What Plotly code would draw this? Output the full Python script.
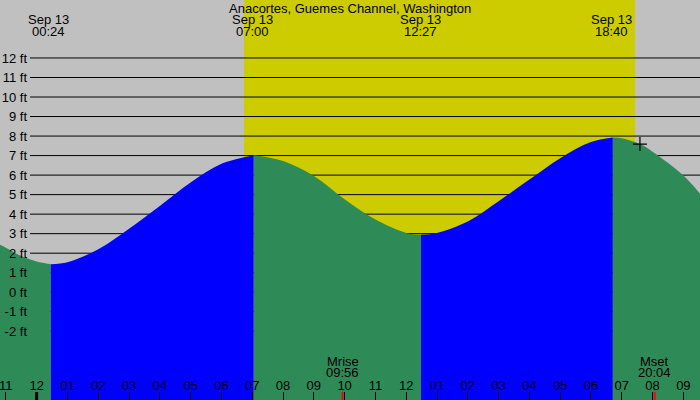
import plotly.graph_objects as go

TITLE = "Anacortes, Guemes Channel, Washington"

# tide height (ft) against hours since midnight Sep 13
tide_hours = [-1.19, -1.0, -0.5, 0.0, 0.46, 1.0, 2.0, 3.0, 4.0, 5.0, 6.0, 7.05,
              8.0, 9.0, 10.0, 11.0, 12.0, 12.48, 13.0, 14.0, 15.0, 16.0, 17.0,
              18.0, 18.71, 19.0, 19.59, 20.0, 21.0, 21.54]
tide_ft = [2.43, 2.28, 1.85, 1.58, 1.44, 1.54, 2.2, 3.25, 4.42, 5.62, 6.58, 7.02,
           6.72, 5.95, 4.76, 3.72, 3.04, 2.95, 3.04, 3.62, 4.66, 5.77, 6.87,
           7.7, 7.93, 7.89, 7.59, 7.2, 5.98, 5.05]

# where the tide turns (colour changes there)
turn_hours = [0.46, 7.05, 12.48, 18.71]

# highs and lows labelled along the top
extreme_hours = [0.4, 7.0, 12.45, 18.667]
extreme_dates = ["Sep 13", "Sep 13", "Sep 13", "Sep 13"]
extreme_times = ["00:24", "07:00", "12:27", "18:40"]

hour_ticks = list(range(-1, 22))
hour_labels = ["11", "12", "01", "02", "03", "04", "05", "06", "07", "08", "09",
               "10", "11", "12", "01", "02", "03", "04", "05", "06", "07", "08", "09"]

ft_ticks = list(range(-2, 13))
ft_labels = [f"{v} ft" for v in ft_ticks]

sunrise = 6.73
sunset = 19.43

moon_hours = [9.933, 20.067]
moon_names = ["Mrise", "Mset"]
moon_times = ["09:56", "20:04"]

mark_hours = [19.59]
mark_ft = [7.59]

X_RANGE = [-1.19, 21.54]
Y_RANGE = [-5.52, 14.97]

GREY = "#C0C0C0"
SUN = "#CCCC00"
RISE = "#0000FF"
FALL = "#2E8B57"
W, H = 700, 400


def ypx(px):
    # pixel row from the top -> paper coordinate
    return 1 - px / H


fig = go.Figure()

# one filled piece per rise / fall, split where the tide turns
bounds = [tide_hours[0]] + turn_hours + [tide_hours[-1]]
for a, b in zip(bounds[:-1], bounds[1:]):
    idx = [i for i, h in enumerate(tide_hours) if a <= h <= b]
    xs = [tide_hours[i] for i in idx]
    ys = [tide_ft[i] for i in idx]
    color = RISE if ys[-1] > ys[0] else FALL
    fig.add_trace(go.Scatter(x=xs, y=[Y_RANGE[0]] * len(xs), mode="lines",
                             line=dict(width=0), hoverinfo="skip"))
    fig.add_trace(go.Scatter(x=xs, y=ys, mode="lines",
                             line=dict(width=0, color=color, shape="spline"),
                             fill="tonexty", fillcolor=color))

fig.add_trace(go.Scatter(x=mark_hours, y=mark_ft, mode="markers",
                         marker=dict(symbol="cross-thin", size=10,
                                     line=dict(width=1.2, color="black"))))

shapes = [dict(type="rect", xref="x", yref="paper", x0=sunrise, x1=sunset,
               y0=0, y1=1, fillcolor=SUN, line=dict(width=0), layer="below")]
for v in ft_ticks:
    shapes.append(dict(type="line", xref="paper", yref="y", x0=30 / W, x1=1,
                       y0=v, y1=v, line=dict(color="black", width=1),
                       layer="below"))
# heavier tick at midnight, red ticks at moonrise / moonset
shapes.append(dict(type="line", xref="x", yref="paper", x0=0, x1=0,
                   y0=0, y1=8 / H, line=dict(color="black", width=3)))
for mh in moon_hours:
    shapes.append(dict(type="line", xref="x", yref="paper", x0=mh, x1=mh,
                       y0=0, y1=8 / H, line=dict(color="red", width=2)))

annotations = [dict(text=TITLE, x=0.5, xref="paper", y=ypx(8), yref="paper",
                    showarrow=False, yanchor="middle")]
for eh, ed, et in zip(extreme_hours, extreme_dates, extreme_times):
    annotations.append(dict(text=ed, x=eh, xref="x", y=ypx(19.7), yref="paper",
                            showarrow=False, yanchor="middle"))
    annotations.append(dict(text=et, x=eh, xref="x", y=ypx(31.7), yref="paper",
                            showarrow=False, yanchor="middle"))
for mh, mn, mt in zip(moon_hours, moon_names, moon_times):
    annotations.append(dict(text=mn, x=mh, xref="x", y=ypx(361.3), yref="paper",
                            showarrow=False, yanchor="middle"))
    annotations.append(dict(text=mt, x=mh, xref="x", y=ypx(372), yref="paper",
                            showarrow=False, yanchor="middle"))

fig.update_layout(
    width=W, height=H,
    margin=dict(l=0, r=0, t=0, b=0),
    paper_bgcolor=GREY, plot_bgcolor=GREY,
    font=dict(family="Liberation Sans", size=13, color="black"),
    showlegend=False,
    shapes=shapes,
    annotations=annotations,
)
fig.update_xaxes(range=X_RANGE, tickvals=hour_ticks, ticktext=hour_labels,
                 ticks="inside", ticklen=8, tickwidth=1, tickcolor="black",
                 tickfont=dict(color="black"), ticklabeloverflow="allow",
                 ticklabelposition="inside", ticklabelstandoff=-1,
                 showgrid=False, zeroline=False,
                 showline=False, fixedrange=True)
fig.update_yaxes(range=Y_RANGE, tickvals=ft_ticks, ticktext=ft_labels,
                 tickfont=dict(color="black"),
                 anchor="free", position=27 / W, ticks="", showgrid=False,
                 zeroline=False, showline=False, fixedrange=True)

fig.write_html("out.html", config={"displayModeBar": False},
               post_script="document.body.style.margin='0px';")
